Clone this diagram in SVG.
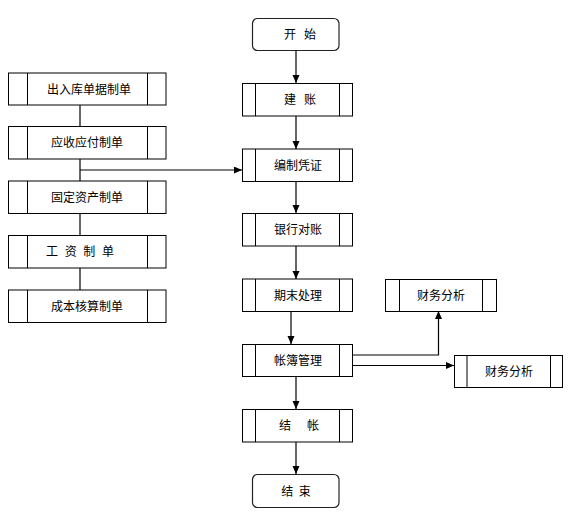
<svg xmlns="http://www.w3.org/2000/svg" width="588" height="526" viewBox="0 0 588 526">
<style>
.b{fill:#fff;stroke:#000;stroke-width:1}
.r{fill:#fff;stroke:#222;stroke-width:1.2}
.l{stroke:#000;stroke-width:1;fill:none}
.t{font-family:"Noto Sans CJK SC","Liberation Sans",sans-serif;font-size:12px;fill:#000;text-anchor:middle}
.c{stroke:#000;stroke-width:1.2;fill:none}
</style>
<defs>
<marker id="a" markerUnits="userSpaceOnUse" markerWidth="9" markerHeight="8" refX="8" refY="3.5" orient="auto">
<path d="M0,0 L8,3.5 L0,7 z" fill="#000"/>
</marker>
</defs>
<rect width="588" height="526" fill="#fff"/>
<g id="connectors">
<line class="c" x1="80" y1="105" x2="80" y2="126"/>
<line class="c" x1="80" y1="159" x2="80" y2="181"/>
<line class="c" x1="80" y1="213" x2="80" y2="235"/>
<line class="c" x1="80" y1="268" x2="80" y2="290"/>
<line class="c" x1="80" y1="170" x2="242" y2="170" marker-end="url(#a)"/>
<line class="c" x1="296" y1="51" x2="296" y2="83" marker-end="url(#a)"/>
<line class="c" x1="296" y1="116" x2="296" y2="149" marker-end="url(#a)"/>
<line class="c" x1="296" y1="181" x2="296" y2="213" marker-end="url(#a)"/>
<line class="c" x1="296" y1="246" x2="296" y2="279" marker-end="url(#a)"/>
<line class="c" x1="291" y1="311" x2="291" y2="344" marker-end="url(#a)"/>
<line class="c" x1="296" y1="376" x2="296" y2="409" marker-end="url(#a)"/>
<line class="c" x1="296" y1="442" x2="296" y2="474" marker-end="url(#a)"/>
<polyline class="c" points="352,355 438.5,355 438.5,311" marker-end="url(#a)"/>
<line class="c" x1="352" y1="365.5" x2="454" y2="365.5" marker-end="url(#a)"/>
</g>
<g id="n1"><rect class="b" x="8.5" y="73" width="157.5" height="32"/><line class="l" x1="27.5" y1="73" x2="27.5" y2="105"/><line class="l" x1="147.5" y1="73" x2="147.5" y2="105"/><text class="t" x="89" y="93.5">出入库单据制单</text></g>
<g id="n2"><rect class="b" x="8.5" y="126.5" width="157.5" height="32.5"/><line class="l" x1="27.5" y1="126.5" x2="27.5" y2="159"/><line class="l" x1="147.5" y1="126.5" x2="147.5" y2="159"/><text class="t" x="87" y="147">应收应付制单</text></g>
<g id="n3"><rect class="b" x="8.5" y="181" width="157.5" height="32.5"/><line class="l" x1="27.5" y1="181" x2="27.5" y2="213.5"/><line class="l" x1="147.5" y1="181" x2="147.5" y2="213.5"/><text class="t" x="87" y="201.5">固定资产制单</text></g>
<g id="n4"><rect class="b" x="8.5" y="235.5" width="157.5" height="32.5"/><line class="l" x1="27.5" y1="235.5" x2="27.5" y2="268"/><line class="l" x1="147.5" y1="235.5" x2="147.5" y2="268"/><text class="t" x="80" y="256" word-spacing="4">工 资 制 单</text></g>
<g id="n5"><rect class="b" x="8.5" y="290" width="157.5" height="32.5"/><line class="l" x1="27.5" y1="290" x2="27.5" y2="322.5"/><line class="l" x1="147.5" y1="290" x2="147.5" y2="322.5"/><text class="t" x="87" y="310.5">成本核算制单</text></g>
<g id="start"><rect class="r" x="252.5" y="18.5" width="86.5" height="32" rx="5"/><text class="t" x="300" y="39" xml:space="preserve">开   始</text></g>
<g id="r1"><rect class="b" x="242.5" y="83.5" width="110" height="32.5"/><line class="l" x1="255.5" y1="83.5" x2="255.5" y2="116"/><line class="l" x1="339.5" y1="83.5" x2="339.5" y2="116"/><text class="t" x="300" y="104" xml:space="preserve">建   账</text></g>
<g id="r2"><rect class="b" x="242.5" y="149" width="110" height="32.5"/><line class="l" x1="255.5" y1="149" x2="255.5" y2="181.5"/><line class="l" x1="339.5" y1="149" x2="339.5" y2="181.5"/><text class="t" x="298" y="169.5">编制凭证</text></g>
<g id="r3"><rect class="b" x="242.5" y="213.5" width="110" height="32.5"/><line class="l" x1="255.5" y1="213.5" x2="255.5" y2="246"/><line class="l" x1="339.5" y1="213.5" x2="339.5" y2="246"/><text class="t" x="298" y="234">银行对账</text></g>
<g id="r4"><rect class="b" x="242.5" y="279" width="110" height="32.5"/><line class="l" x1="255.5" y1="279" x2="255.5" y2="311.5"/><line class="l" x1="339.5" y1="279" x2="339.5" y2="311.5"/><text class="t" x="298" y="299.5">期末处理</text></g>
<g id="r5"><rect class="b" x="242.5" y="344.5" width="110" height="32"/><line class="l" x1="255.5" y1="344.5" x2="255.5" y2="376.5"/><line class="l" x1="339.5" y1="344.5" x2="339.5" y2="376.5"/><text class="t" x="298" y="364.5">帐簿管理</text></g>
<g id="r6"><rect class="b" x="242.5" y="409.5" width="110" height="32.5"/><line class="l" x1="255.5" y1="409.5" x2="255.5" y2="442"/><line class="l" x1="339.5" y1="409.5" x2="339.5" y2="442"/><text class="t" x="299" y="430" xml:space="preserve">结      帐</text></g>
<g id="end"><rect class="r" x="252.5" y="474.5" width="86.5" height="33" rx="5"/><text class="t" x="296" y="495.5" xml:space="preserve">结  束</text></g>
<g id="f1"><rect class="b" x="385.5" y="279.5" width="111" height="32"/><line class="l" x1="399.5" y1="279.5" x2="399.5" y2="311.5"/><line class="l" x1="482.5" y1="279.5" x2="482.5" y2="311.5"/><text class="t" x="441" y="299.5">财务分析</text></g>
<g id="f2"><rect class="b" x="454.5" y="355.5" width="108" height="32"/><line class="l" x1="467" y1="355.5" x2="467" y2="387.5"/><line class="l" x1="550.5" y1="355.5" x2="550.5" y2="387.5"/><text class="t" x="509" y="375.5">财务分析</text></g>
</svg>
